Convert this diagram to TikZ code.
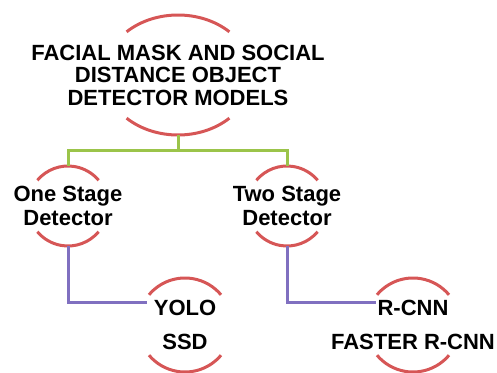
\documentclass[tikz,border=0pt]{standalone}
\usepackage{fontspec}
\setmainfont{Liberation Sans}
\definecolor{arcred}{RGB}{214,86,86}
\definecolor{lnkgreen}{RGB}{155,196,74}
\definecolor{lnkpurple}{RGB}{128,112,192}
\newcommand{\capsarcs}[4]{%
  \draw[arcline] ([shift={(180+#4:#2 and #3)}]#1.center) arc[start angle=180+#4, end angle=360-#4, x radius=#2, y radius=#3];
  \draw[arcline] ([shift={(#4:#2 and #3)}]#1.center) arc[start angle=#4, end angle=180-#4, x radius=#2, y radius=#3];}
\tikzset{
  arcline/.style={draw=arcred, line width=3pt},
  lbl/.style={align=center, inner sep=0pt, text=black, font=\bfseries\fontsize{22}{22.5}\selectfont},
  lbltwo/.style={lbl, font=\bfseries\fontsize{22}{24}\selectfont},
  lblthree/.style={lbl, font=\bfseries\fontsize{22}{34}\selectfont},
  greenlink/.style={draw=lnkgreen, line width=3pt},
  purplelink/.style={draw=lnkpurple, line width=3pt},
}
\begin{document}
\begin{tikzpicture}[x=1pt,y=-1pt]
\useasboundingbox (0,0) rectangle (497,372);
% nodes
\node[lbl] (root) at (178,75) {FACIAL MASK AND SOCIAL\\DISTANCE OBJECT\\DETECTOR MODELS};
\node[lbltwo] (one) at (68,206) {One Stage\\Detector};
\node[lbltwo] (two) at (287,206) {Two Stage\\Detector};
\node[lblthree] (yolo) at (185,325) {YOLO\\SSD};
\node[lblthree] (rcnn) at (413,325) {R-CNN\\FASTER R-CNN};
% arcs
\capsarcs{root}{74}{60}{46}
\capsarcs{one}{40}{40}{40}
\capsarcs{two}{40}{40}{40}
\capsarcs{yolo}{47}{47}{40}
\capsarcs{rcnn}{47}{47}{40}
% connector end points
\coordinate (rootb) at (178,135);
\coordinate (onet) at (68,166);
\coordinate (twot) at (287,166);
\coordinate (oneb) at (68,246);
\coordinate (twob) at (287,246);
\coordinate (yolol) at (147,302);
\coordinate (rcnnl) at (376,302);
\coordinate (bend) at (178,150);
% connectors
\draw[greenlink, line join=miter] (rootb) -- (bend) -| (onet);
\draw[greenlink, line join=miter] (bend) -| (twot);
\draw[purplelink, line join=miter] (oneb) |- (yolol);
\draw[purplelink, line join=miter] (twob) |- (rcnnl);
\end{tikzpicture}
\end{document}
